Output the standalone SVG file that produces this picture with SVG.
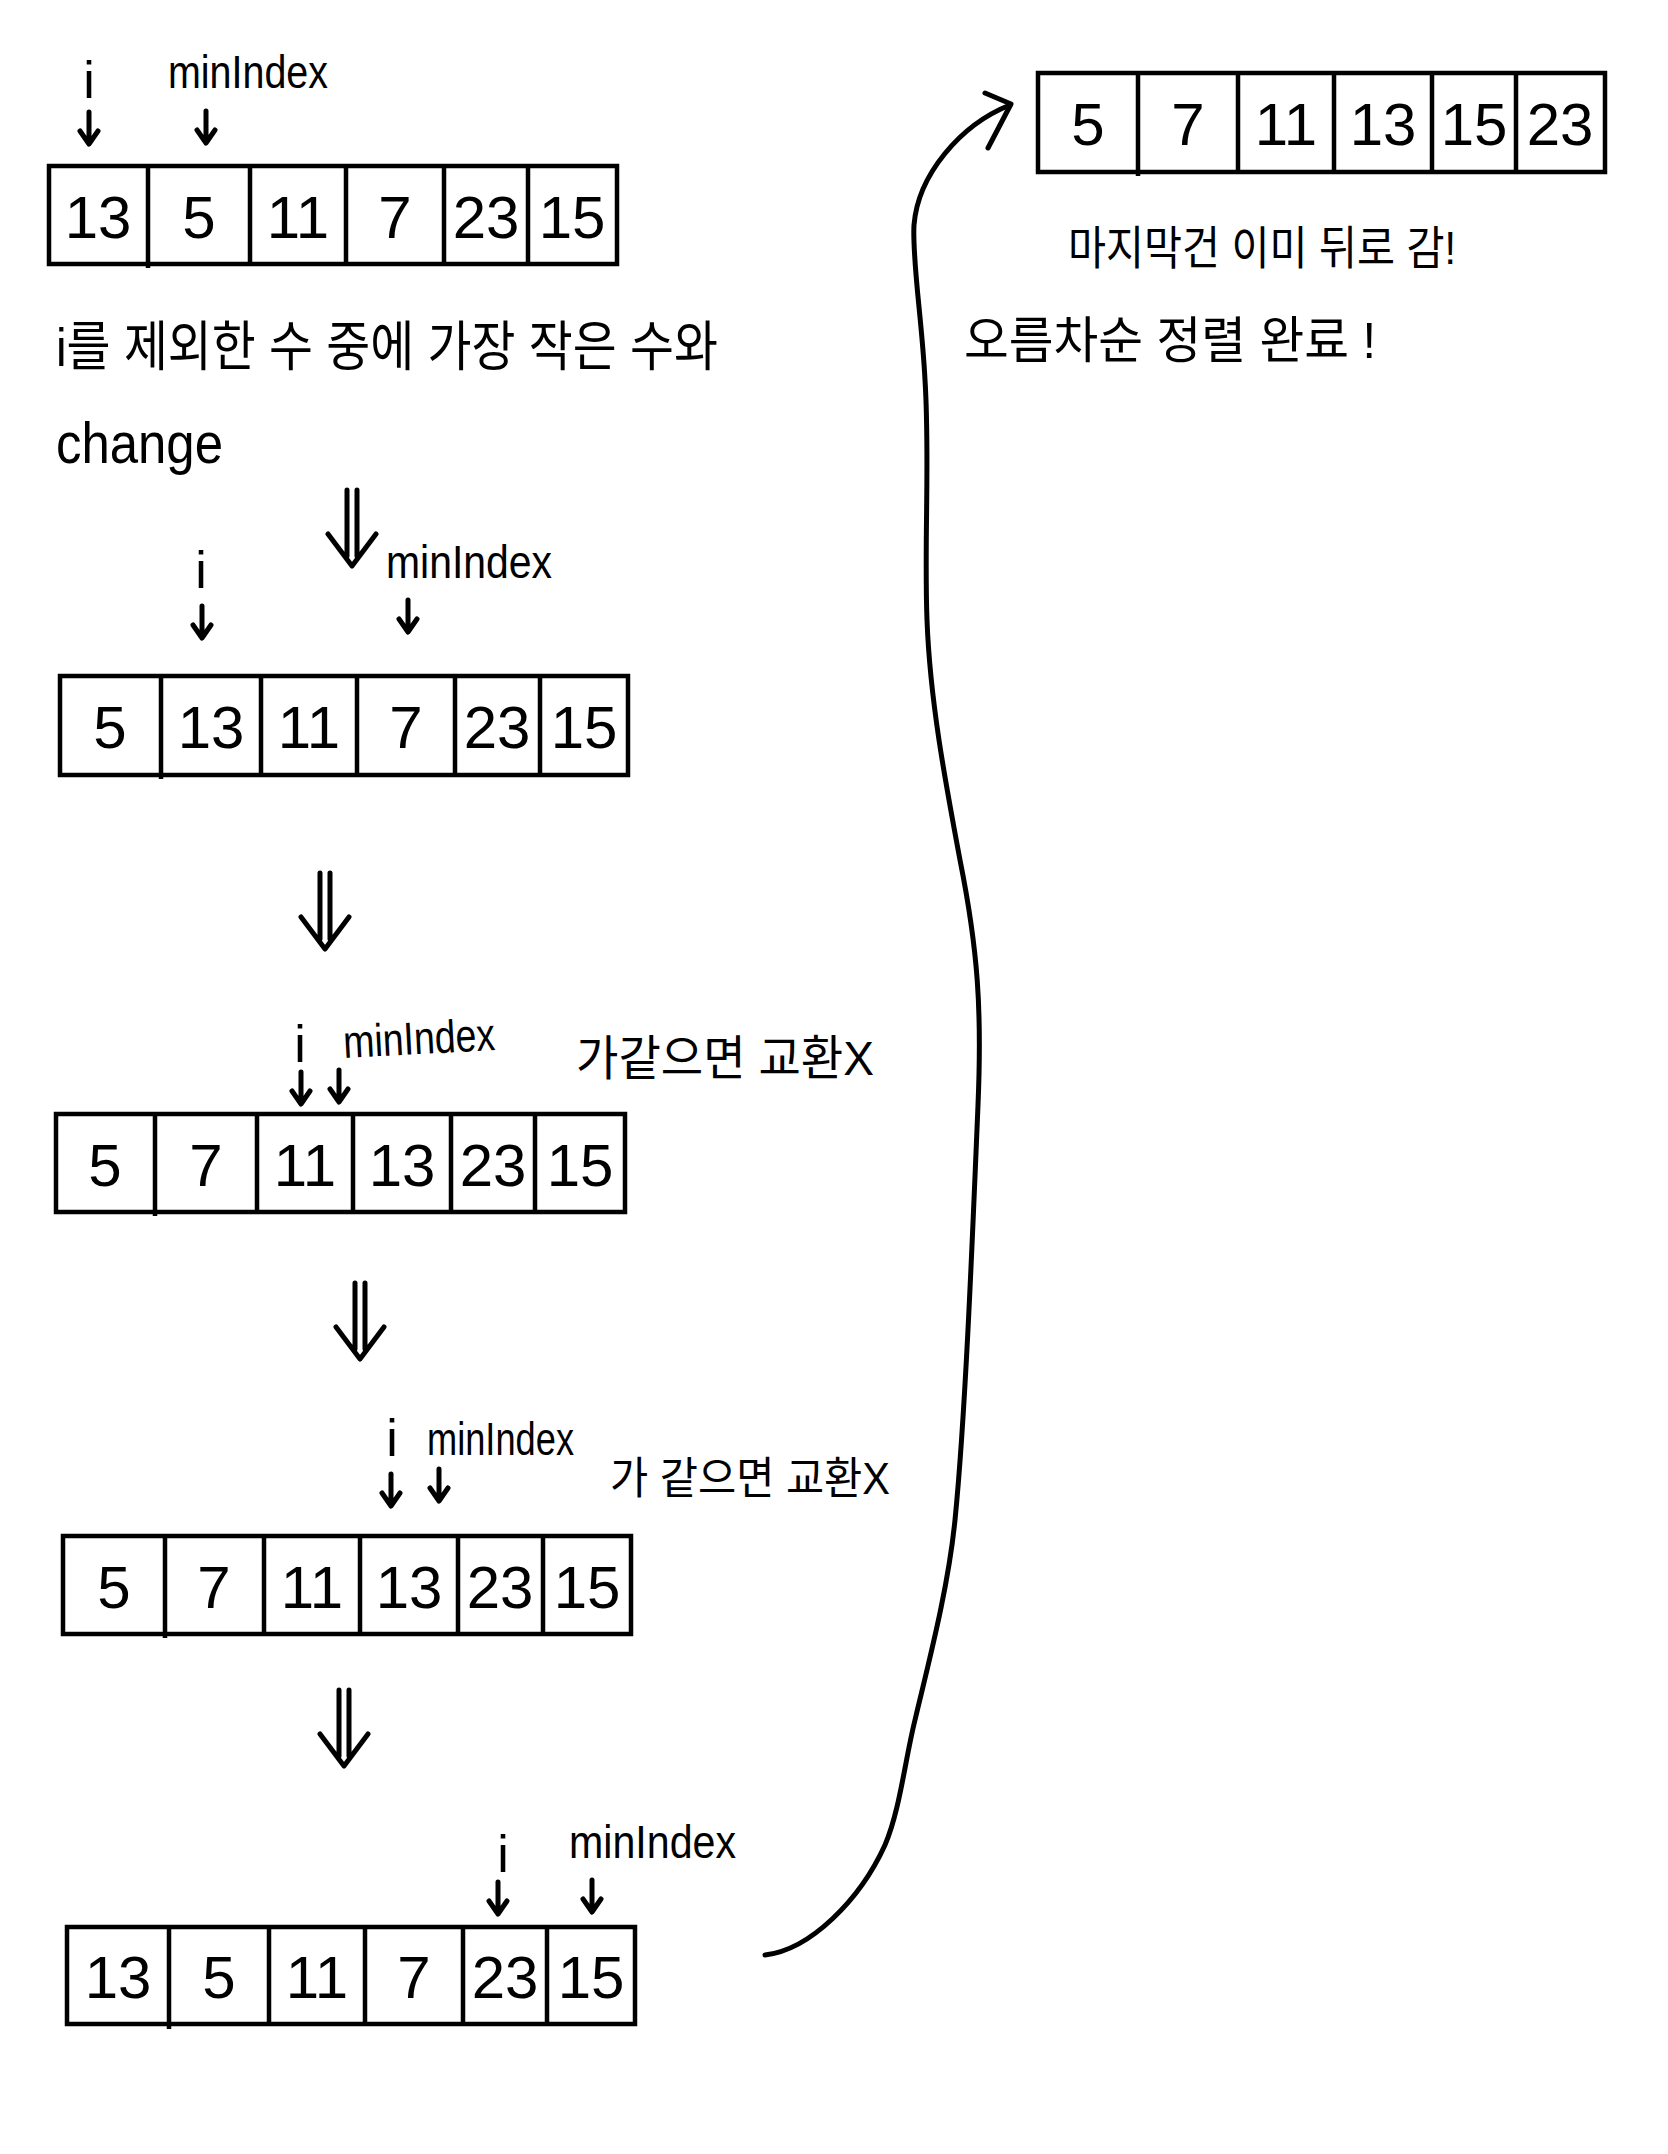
<svg xmlns="http://www.w3.org/2000/svg" xmlns:xlink="http://www.w3.org/1999/xlink" width="1668" height="2154" viewBox="0 0 1668 2154">
<style>
.box{fill:none;stroke:#000;stroke-width:4.5;stroke-linejoin:miter}
.div{stroke:#000;stroke-width:4.5}
.num{font-family:"Liberation Sans",Arial,sans-serif;font-size:60px;fill:#000;text-anchor:middle}
.lbl{font-family:"Liberation Sans",Arial,sans-serif;font-size:46px;fill:#000}
.idx{font-family:"Liberation Sans",Arial,sans-serif;font-size:52px;fill:#000;text-anchor:middle}
.kr{font-family:"Liberation Sans","Noto Sans CJK KR",sans-serif;fill:#000}
.ink{fill:none;stroke:#000;stroke-width:5;stroke-linecap:round;stroke-linejoin:round}
</style>
<defs>
<g id="down"><path class="ink" d="M0,0 L0,31 M-9,19 L0,32 L9,19"/></g>
<g id="dbl"><path class="ink" d="M-5,0 L-5,66 M5,0 L5,66 M-24,44 L0,76 L24,44"/></g>
</defs>
<rect width="1668" height="2154" fill="#fff"/>

<g id="array1">
<rect class="box" x="49" y="166" width="568" height="98"/>
<path class="div" d="M148,166V268 M250,166V264 M346,166V264 M444,166V264 M528,166V264"/>
<text class="num" x="98" y="238">13</text><text class="num" x="199" y="238">5</text><text class="num" x="298" y="238">11</text><text class="num" x="395" y="238">7</text><text class="num" x="486" y="238">23</text><text class="num" x="572" y="238">15</text>
</g>
<g id="labels1">
<text class="idx" x="89" y="98">i</text>
<text class="lbl" x="168" y="88" textLength="160" lengthAdjust="spacingAndGlyphs">minIndex</text>
</g>
<g id="note1">
<text class="kr" x="56" y="366" font-size="54" textLength="662" lengthAdjust="spacingAndGlyphs">i를 제외한 수 중에 가장 작은 수와</text>
<text class="kr" x="56" y="463" font-size="58" textLength="167" lengthAdjust="spacingAndGlyphs">change</text>
</g>

<g id="array2">
<rect class="box" x="60" y="676" width="568" height="99"/>
<path class="div" d="M161,676V779 M261,676V775 M357,676V775 M455,676V775 M540,676V775"/>
<text class="num" x="110" y="748">5</text><text class="num" x="211" y="748">13</text><text class="num" x="309" y="748">11</text><text class="num" x="406" y="748">7</text><text class="num" x="497" y="748">23</text><text class="num" x="584" y="748">15</text>
</g>
<g id="labels2">
<text class="idx" x="201" y="588">i</text>
<text class="lbl" x="386" y="578" textLength="166" lengthAdjust="spacingAndGlyphs">minIndex</text>
</g>

<g id="array3">
<rect class="box" x="56" y="1114" width="569" height="98"/>
<path class="div" d="M155,1114V1216 M257,1114V1212 M353,1114V1212 M451,1114V1212 M535,1114V1212"/>
<text class="num" x="105" y="1186">5</text><text class="num" x="206" y="1186">7</text><text class="num" x="305" y="1186">11</text><text class="num" x="402" y="1186">13</text><text class="num" x="493" y="1186">23</text><text class="num" x="580" y="1186">15</text>
</g>
<g id="labels3">
<text class="idx" x="300" y="1062">i</text>
<text class="lbl" x="344" y="1058" textLength="152" lengthAdjust="spacingAndGlyphs" transform="rotate(-3 344 1058)">minIndex</text>
<text class="kr" x="576" y="1075" font-size="48" textLength="298" lengthAdjust="spacingAndGlyphs">가같으면 교환X</text>
</g>

<g id="array4">
<rect class="box" x="63" y="1536" width="568" height="98"/>
<path class="div" d="M165,1536V1638 M264,1536V1634 M360,1536V1634 M458,1536V1634 M543,1536V1634"/>
<text class="num" x="114" y="1608">5</text><text class="num" x="214" y="1608">7</text><text class="num" x="312" y="1608">11</text><text class="num" x="409" y="1608">13</text><text class="num" x="500" y="1608">23</text><text class="num" x="587" y="1608">15</text>
</g>
<g id="labels4">
<text class="idx" x="392" y="1456">i</text>
<text class="lbl" x="427" y="1455" textLength="147" lengthAdjust="spacingAndGlyphs">minIndex</text>
<text class="kr" x="610" y="1494" font-size="44" textLength="280" lengthAdjust="spacingAndGlyphs">가 같으면 교환X</text>
</g>

<g id="array5">
<rect class="box" x="67" y="1927" width="568" height="97"/>
<path class="div" d="M169,1927V2029 M269,1927V2024 M365,1927V2024 M463,1927V2024 M547,1927V2024"/>
<text class="num" x="118" y="1998">13</text><text class="num" x="219" y="1998">5</text><text class="num" x="317" y="1998">11</text><text class="num" x="414" y="1998">7</text><text class="num" x="505" y="1998">23</text><text class="num" x="591" y="1998">15</text>
</g>
<g id="labels5">
<text class="idx" x="503" y="1872">i</text>
<text class="lbl" x="569" y="1858" textLength="167" lengthAdjust="spacingAndGlyphs">minIndex</text>
</g>

<g id="arrayFinal">
<rect class="box" x="1038" y="73" width="567" height="99"/>
<path class="div" d="M1138,73V176 M1238,73V172 M1334,73V172 M1432,73V172 M1516,73V172"/>
<text class="num" x="1088" y="145">5</text><text class="num" x="1188" y="145">7</text><text class="num" x="1286" y="145">11</text><text class="num" x="1383" y="145">13</text><text class="num" x="1474" y="145">15</text><text class="num" x="1560" y="145">23</text>
</g>
<g id="noteFinal">
<text class="kr" x="1068" y="264" font-size="46" textLength="388" lengthAdjust="spacingAndGlyphs">마지막건 이미 뒤로 감!</text>
<text class="kr" x="964" y="358" font-size="50" textLength="412" lengthAdjust="spacingAndGlyphs">오름차순 정렬 완료 !</text>
</g>

<g id="connectors">
<use href="#down" xlink:href="#down" x="89" y="112"/>
<use href="#down" xlink:href="#down" x="206" y="111"/>
<use href="#dbl" xlink:href="#dbl" x="352" y="490"/>
<use href="#down" xlink:href="#down" x="202" y="606"/>
<use href="#down" xlink:href="#down" x="408" y="600"/>
<use href="#dbl" xlink:href="#dbl" x="325" y="873"/>
<use href="#down" xlink:href="#down" x="301" y="1072"/>
<use href="#down" xlink:href="#down" x="339" y="1070"/>
<use href="#dbl" xlink:href="#dbl" x="360" y="1283"/>
<use href="#down" xlink:href="#down" x="391" y="1474"/>
<use href="#down" xlink:href="#down" x="439" y="1469"/>
<use href="#dbl" xlink:href="#dbl" x="344" y="1690"/>
<use href="#down" xlink:href="#down" x="498" y="1882"/>
<use href="#down" xlink:href="#down" x="592" y="1880"/>
<path class="ink" d="M765,1955 C810,1950 860,1900 885,1845 C900,1810 905,1760 915,1720 C928,1665 948,1590 955,1520 C965,1420 972,1250 978,1105 C982,1010 978,950 960,860 C945,780 930,700 927,620 C924,540 930,460 925,380 C922,320 912,260 914,225 C918,175 960,125 1010,105"/>
<path class="ink" d="M985,93 L1011,104 L988,148"/>
</g>
</svg>
